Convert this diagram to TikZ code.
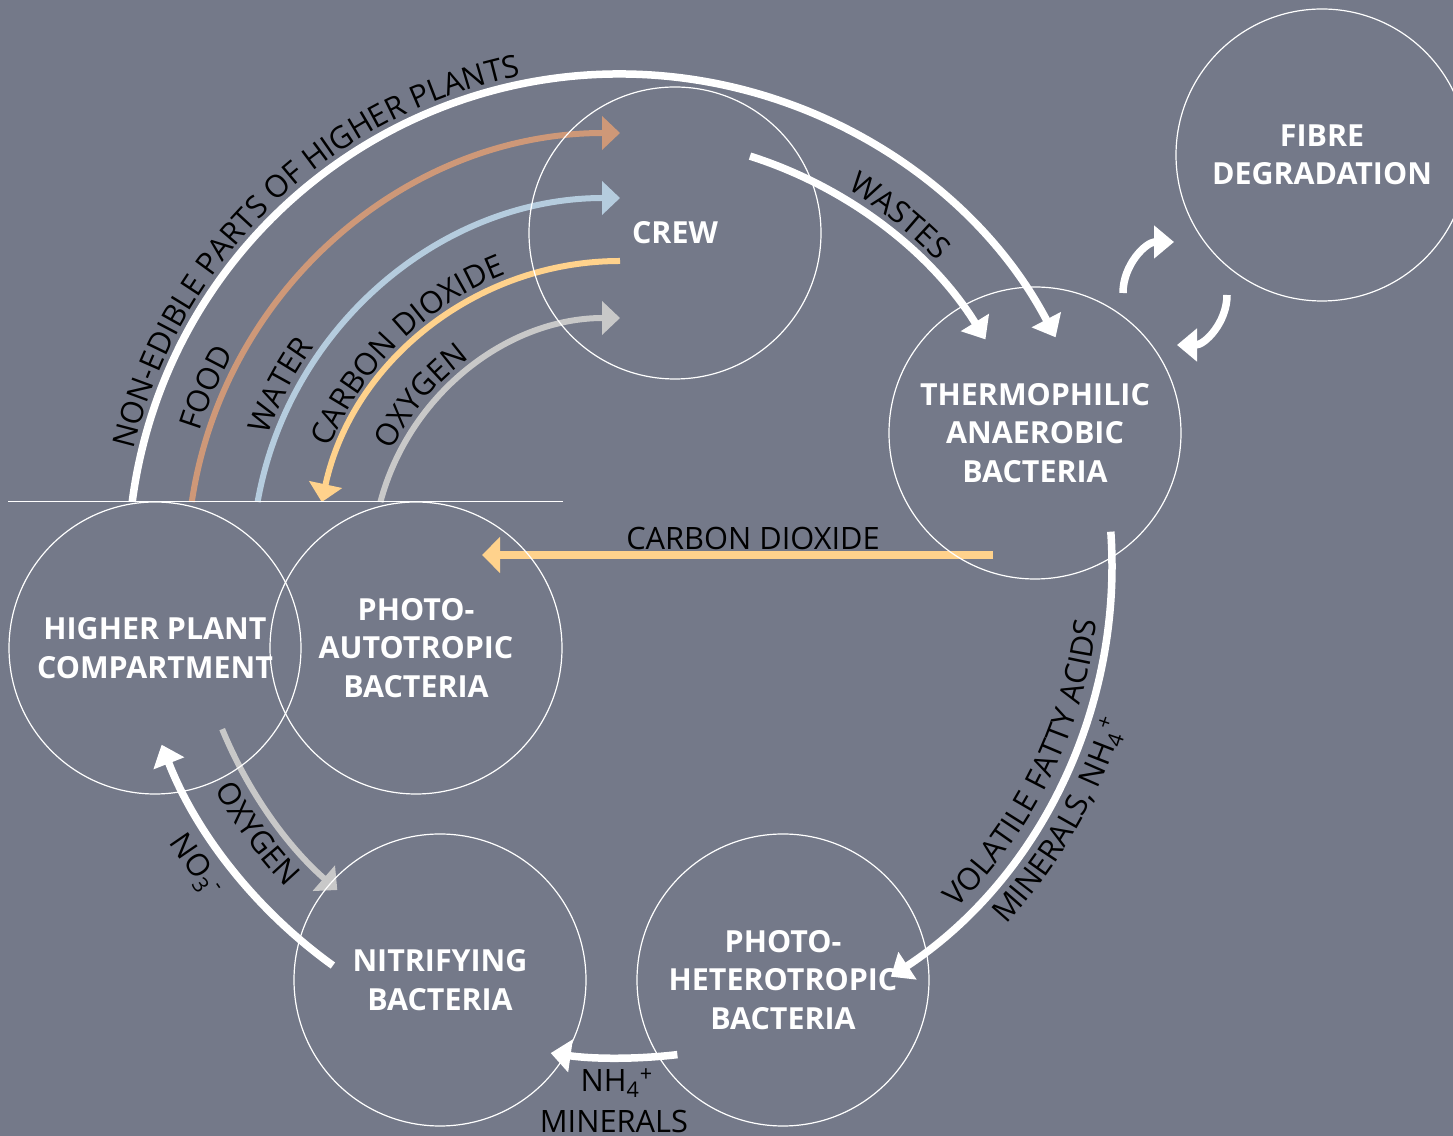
\documentclass[tikz,border=0pt]{standalone}
\usepackage{fontspec}
\setmainfont{Open Sans}
\usetikzlibrary{arrows.meta,calc,backgrounds,decorations.text}

\definecolor{slate}{RGB}{116,121,137}
\definecolor{foodc}{RGB}{206,152,120}
\definecolor{waterc}{RGB}{181,204,222}
\definecolor{carbonc}{RGB}{255,210,140}
\definecolor{oxyc}{RGB}{200,200,200}
\newcommand\lbl{\fontsize{15.4}{18}\selectfont}

\begin{document}
\begin{tikzpicture}[x=.5pt,y=.5pt,
  unit/.style={circle,draw=white,line width=.6pt,minimum size=146pt,inner sep=0pt,
    align=center,text=white,font=\bfseries\fontsize{15.2}{19.2}\selectfont},
  flow/.style={white,line width=3.75pt,-{Triangle[length=10pt,width=16pt]}},
  feed/.style={line width=3pt,-{Triangle[length=9pt,width=16.5pt]}},
  along/.style={decorate,decoration={text along path,text align=center,text={|\lbl|#1}}}]
\useasboundingbox (0,0) rectangle (1453,1136);
\coordinate (hub) at (620,570);
% compartments
\node[unit] (crew) at (675,903) {CREW};
\node[unit] (fibre) at (1322,981) {FIBRE\\DEGRADATION};
\node[unit] (thermo) at (1035,703) {THERMOPHILIC\\ANAEROBIC\\BACTERIA};
\node[unit] (plant) at (155,488) {HIGHER PLANT\\COMPARTMENT};
\node[unit] (photoauto) at (416,488) {PHOTO-\\AUTOTROPIC\\BACTERIA};
\node[unit] (nitri) at (440,156) {NITRIFYING\\BACTERIA};
\node[unit] (photohet) at (783,156) {PHOTO-\\HETEROTROPIC\\BACTERIA};
\draw[white,line width=.6pt] (plant.west |- plant.north) -- (photoauto.east |- photoauto.north);

\begin{scope}[on background layer]
\fill[slate] (0,0) rectangle (1453,1136);
% loop round the hub
\draw[flow] (hub) ++(172.5:492) arc[start angle=172.5,end angle=27.7,radius=492];
\draw[flow] (hub) ++(72.4:430) arc[start angle=72.4,end angle=31.8,radius=430];
\draw[flow] (hub) ++(4:492) arc[start angle=4,end angle=-56.6,radius=492];
\draw[flow] (hub) ++(276.7:492) arc[start angle=276.7,end angle=261.9,radius=492];
\draw[flow] (hub) ++(234.3:492) arc[start angle=234.3,end angle=201.3,radius=492];
\draw[feed,oxyc] (hub) ++(202.3:430) arc[start angle=202.3,end angle=228.9,radius=430];
% plants to crew
\foreach \r/\c in {433/foodc,368/waterc,248/oxyc}{
  \pgfmathsetmacro{\a}{180-asin(64/\r)}
  \draw[feed,\c] (hub) ++(\a:\r) arc[start angle=\a,end angle=90,radius=\r];
}
\draw[feed,carbonc] (hub) ++(90:305) arc[start angle=90,end angle=167.9,radius=305];
\draw[carbonc,line width=3.75pt,-{Triangle[length=9pt,width=17.5pt]}]
  ($(thermo)+(-42,-122)$) -- ($(photoauto)+(66,93)$);
% fibre exchange
\draw[flow] ($(thermo)+(88,140)$) arc[start angle=180,end angle=90,radius=51];
\draw[flow] ($(fibre)+(-95,-140)$) arc[start angle=0,end angle=-90,radius=50];
\end{scope}

% labels
\path[along={NON-EDIBLE PARTS OF HIGHER PLANTS}] (hub) ++(179:500) arc[start angle=179,end angle=89,radius=500];
\path[along={FOOD}] (hub) ++(186.7:441) arc[start angle=186.7,end angle=126.7,radius=441];
\path[along={WATER}] (hub) ++(182:376) arc[start angle=182,end angle=122,radius=376];
\path[along={CARBON DIOXIDE}] (hub) ++(174.6:313) arc[start angle=174.6,end angle=94.6,radius=313];
\path[along={OXYGEN}] (hub) ++(179.5:256) arc[start angle=179.5,end angle=99.5,radius=256];
\path[along={WASTES}] (hub) ++(91.4:440) arc[start angle=91.4,end angle=11.4,radius=440];
\path[along={VOLATILE FATTY ACIDS}] (hub) ++(-71:480) arc[start angle=-71,end angle=19,radius=480];
\path[along={MINERALS, NH{\textsubscript{4}\textsuperscript{+}}}] (hub) ++(-75:527) arc[start angle=-75,end angle=15,radius=527];
\path[along={OXYGEN}] (hub) ++(186.4:463) arc[start angle=186.4,end angle=246.4,radius=463];
\node[rotate=-55.6,font=\lbl] (nolbl) at (195,270) {NO\textsubscript{3}\textsuperscript{-}};
\node[anchor=base,font=\lbl] (co2lbl) at (753,586) {CARBON DIOXIDE};
\node[anchor=base,font=\lbl] (nhlbl) at (617,44) {NH\textsubscript{4}\textsuperscript{+}};
\node[anchor=base,font=\lbl] (minlbl) at (614,3) {MINERALS};
\end{tikzpicture}
\end{document}
